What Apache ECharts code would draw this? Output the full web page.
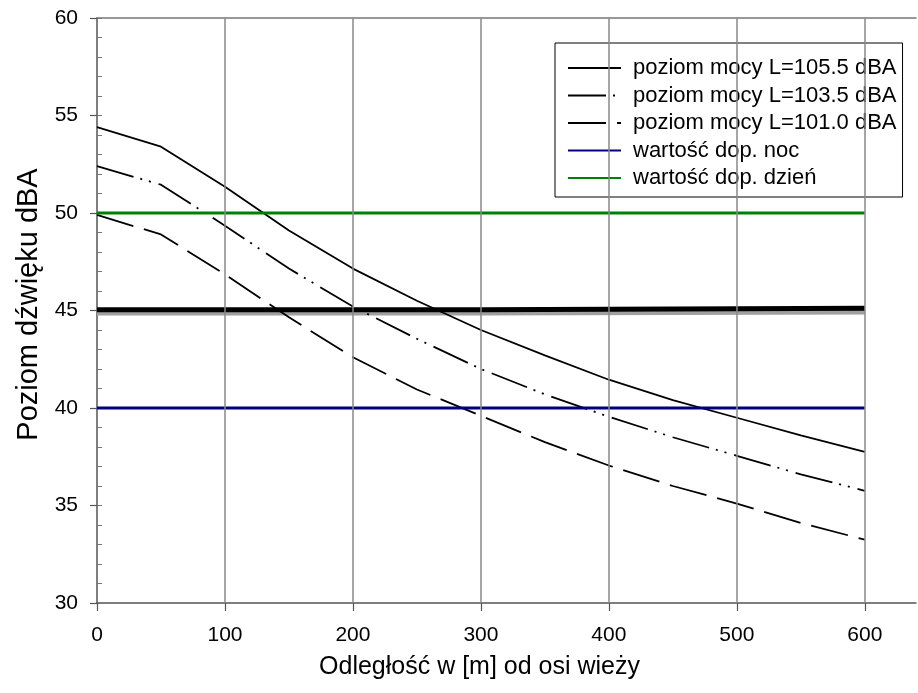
<!DOCTYPE html>
<html>
<head>
<meta charset="utf-8">
<script src="https://cdn.jsdelivr.net/npm/echarts@6/dist/echarts.min.js"></script>
<style>html,body{margin:0;padding:0;background:#fff}#c{width:918px;height:693px}</style>
</head>
<body>
<div id="c"></div>
<script>
// distance [m]
const distances = [0, 50, 100, 150, 200, 250, 300, 350, 400, 450, 500, 550, 600];
// sound level dBA for each source power
const level1055 = [54.4, 53.4, 51.35, 49.1, 47.15, 45.5, 44.0, 42.7, 41.45, 40.4, 39.5, 38.6, 37.75];
const level1035 = [52.4, 51.45, 49.35, 47.15, 45.2, 43.55, 42.0, 40.7, 39.55, 38.5, 37.55, 36.6, 35.75];
const level1010 = [49.9, 48.9, 46.85, 44.65, 42.6, 40.95, 39.6, 38.25, 37.05, 36.0, 35.1, 34.1, 33.25];
// limit lines
const limitX = [0, 600];
const limitNight = 40;
const limitDay = 50;
// thick 45 dB line (black with grey shadow, step at 300 m)
const thickX = [0, 300, 300, 600];
const thickBlack = [45.04, 45.04, 45.11, 45.11];
const thickGrey = [44.87, 44.87, 44.92, 44.92];
// axis ticks
const xTicks = [0, 100, 200, 300, 400, 500, 600];
const xGrid = [100, 200, 300, 400, 500, 600];
const names = ['poziom mocy L=105.5 dBA', 'poziom mocy L=103.5 dBA', 'poziom mocy L=101.0 dBA', 'wartość dop. noc', 'wartość dop. dzień'];

const pairs = (xs, ys) => xs.map((x, i) => [x, ys[i]]);
const FONT = "'Liberation Sans', Arial, sans-serif";

const chart = echarts.init(document.getElementById('c'), null, {renderer: 'canvas'});
chart.setOption({
  animation: false,
  backgroundColor: '#fff',
  grid: {left: 97, right: 2, top: 18, bottom: 90, containLabel: false},
  legend: {
    orient: 'vertical', left: 555, top: 43,
    data: names,
    itemWidth: 53, itemHeight: 14, itemGap: 5.5,
    padding: [14, 6, 8, 12],
    borderColor: '#000', borderWidth: 1, backgroundColor: '#fff',
    itemStyle: {opacity: 0, borderWidth: 0},
    textStyle: {fontFamily: FONT, fontSize: 22, color: '#000', padding: [0, 0, 0, 7]}
  },
  xAxis: [{
    type: 'value', min: 0, max: 640, interval: 100,
    name: 'Odległość w [m] od osi wieży', nameLocation: 'middle', nameGap: 52,
    nameTextStyle: {fontFamily: FONT, fontSize: 25, color: '#000', padding: [0, 54, 0, 0]},
    axisLine: {show: true, onZero: false, lineStyle: {color: '#555', width: 1.5}},
    axisTick: {show: true, customValues: xTicks, length: 8, lineStyle: {color: '#555', width: 1.2}},
    axisLabel: {customValues: xTicks, fontFamily: FONT, fontSize: 21, color: '#000', margin: 22},
    splitLine: {show: false}
  }, {
    type: 'value', min: 0, max: 640, position: 'top',
    axisLine: {show: true, onZero: false, lineStyle: {color: '#777', width: 1.5}},
    axisTick: {show: false}, axisLabel: {show: false}, splitLine: {show: false}
  }],
  yAxis: [{
    type: 'value', min: 30, max: 60, interval: 5,
    name: 'Poziom dźwięku dBA', nameLocation: 'middle', nameGap: 54, nameRotate: 90,
    nameTextStyle: {fontFamily: FONT, fontSize: 29, color: '#000', padding: [0, 0, 0, 12]},
    axisLine: {show: true, onZero: false, lineStyle: {color: '#555', width: 1.5}},
    axisTick: {show: true, length: 7, lineStyle: {color: '#555', width: 1.2}},
    axisLabel: {fontFamily: FONT, fontSize: 21, color: '#000', margin: 19},
    splitLine: {show: false}
  }, {
    type: 'value', min: 30, max: 60, interval: 1, position: 'left',
    axisLine: {show: false},
    axisTick: {show: true, inside: true, length: 5, lineStyle: {color: '#777', width: 1}},
    axisLabel: {show: false}, splitLine: {show: false}
  }],
  series: [
    {
      name: 'grid', type: 'line', data: [], silent: true,
      markLine: {
        silent: true, symbol: 'none', label: {show: false},
        lineStyle: {color: '#888', width: 1.5, type: 'solid'},
        data: xGrid.map(v => ({xAxis: v}))
      }
    },
    {
      name: 'grey45', type: 'line', data: pairs(thickX, thickGrey), symbol: 'none', silent: true,
      lineStyle: {color: '#a0a0a0', width: 5}
    },
    {
      name: 'black45', type: 'line', data: pairs(thickX, thickBlack), symbol: 'none', silent: true,
      lineStyle: {color: '#000', width: 5}
    },
    {
      name: names[0], type: 'line', data: pairs(distances, level1055), symbol: 'none',
      itemStyle: {color: '#000'}, lineStyle: {color: '#000', width: 1.8}
    },
    {
      name: names[1], type: 'line', data: pairs(distances, level1035), symbol: 'none',
      itemStyle: {color: '#000'}, lineStyle: {color: '#000', width: 1.8, type: [38, 7, 2, 7, 2, 8]}
    },
    {
      name: names[2], type: 'line', data: pairs(distances, level1010), symbol: 'none',
      itemStyle: {color: '#000'}, lineStyle: {color: '#000', width: 1.8, type: [38, 11]}
    },
    {
      name: names[3], type: 'line', data: limitX.map(x => [x, limitNight]), symbol: 'none',
      itemStyle: {color: '#000080'}, lineStyle: {color: '#000080', width: 3}
    },
    {
      name: names[4], type: 'line', data: limitX.map(x => [x, limitDay]), symbol: 'none',
      itemStyle: {color: '#008000'}, lineStyle: {color: '#008000', width: 3}
    }
  ]
});
</script>
</body>
</html>
